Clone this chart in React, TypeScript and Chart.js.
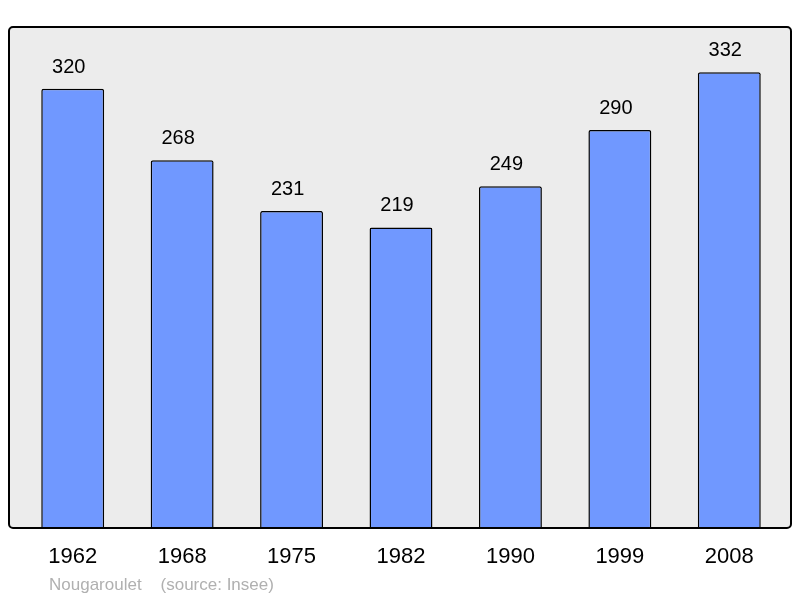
import { useEffect, useRef } from 'react';
import { Chart, registerables } from 'chart.js';

Chart.register(...registerables);

const years = ['1962', '1968', '1975', '1982', '1990', '1999', '2008'];
const population = [320, 268, 231, 219, 249, 290, 332];
const footerText = 'Nougaroulet    (source: Insee)';

const FONT = '"Liberation Sans", Arial, sans-serif';

// grey rounded frame behind the bars, outline drawn over them
const framePlugin = {
  id: 'frame',
  beforeDatasetsDraw(chart: any) {
    const { ctx } = chart;
    ctx.save();
    ctx.beginPath();
    ctx.roundRect(9, 27, 782, 501, 4);
    ctx.fillStyle = '#ececec';
    ctx.fill();
    ctx.restore();
  },
  afterDatasetsDraw(chart: any) {
    const { ctx } = chart;
    ctx.save();
    ctx.beginPath();
    ctx.roundRect(9, 27, 782, 501, 4);
    ctx.lineWidth = 2;
    ctx.strokeStyle = '#000';
    ctx.stroke();

    // values above bars (slightly left of bar centre, as in the original)
    const meta = chart.getDatasetMeta(0);
    ctx.fillStyle = '#000';
    ctx.font = '20px ' + FONT;
    ctx.textAlign = 'center';
    ctx.textBaseline = 'middle';
    meta.data.forEach((bar: any, i: number) => {
      ctx.fillText(String(population[i]), bar.x - 4, bar.y - 21.5);
    });

    // footer
    ctx.fillStyle = '#b0b0b0';
    ctx.font = '17px ' + FONT;
    ctx.textAlign = 'left';
    ctx.fillText(footerText, 49, 585);
    ctx.restore();
  },
};

const App = () => {
  const canvasRef = useRef<HTMLCanvasElement | null>(null);
  const chartRef = useRef<Chart | null>(null);

  useEffect(() => {
    if (!canvasRef.current) return;
    if (chartRef.current) chartRef.current.destroy();

    chartRef.current = new Chart(canvasRef.current, {
      type: 'bar',
      data: {
        labels: years,
        datasets: [
          {
            data: population,
            backgroundColor: '#7098ff',
            borderColor: '#000',
            borderWidth: 1.5,
            borderSkipped: 'bottom',
            borderRadius: 2,
            barPercentage: 0.575,
            categoryPercentage: 1,
          },
        ],
      },
      options: {
        responsive: false,
        animation: false,
        layout: { padding: { left: 18, right: 16, top: 27, bottom: 0 } },
        plugins: {
          legend: { display: false },
          tooltip: { enabled: false },
        },
        scales: {
          x: {
            grid: { display: false, drawTicks: false },
            border: { display: false },
            ticks: {
              color: '#000',
              font: { family: FONT, size: 22 },
              padding: 16,
            },
            afterFit(scale: any) {
              scale.height = 70;
            },
          },
          y: {
            display: false,
            min: 0,
            max: 365,
          },
        },
      },
      plugins: [framePlugin],
    });

    return () => {
      if (chartRef.current) {
        chartRef.current.destroy();
        chartRef.current = null;
      }
    };
  }, []);

  return (
    <div style={{ position: 'absolute', left: 0, top: 0, width: 800, height: 598, background: '#fff' }}>
      <canvas ref={canvasRef} width={800} height={598}></canvas>
    </div>
  );
};

export default App;
